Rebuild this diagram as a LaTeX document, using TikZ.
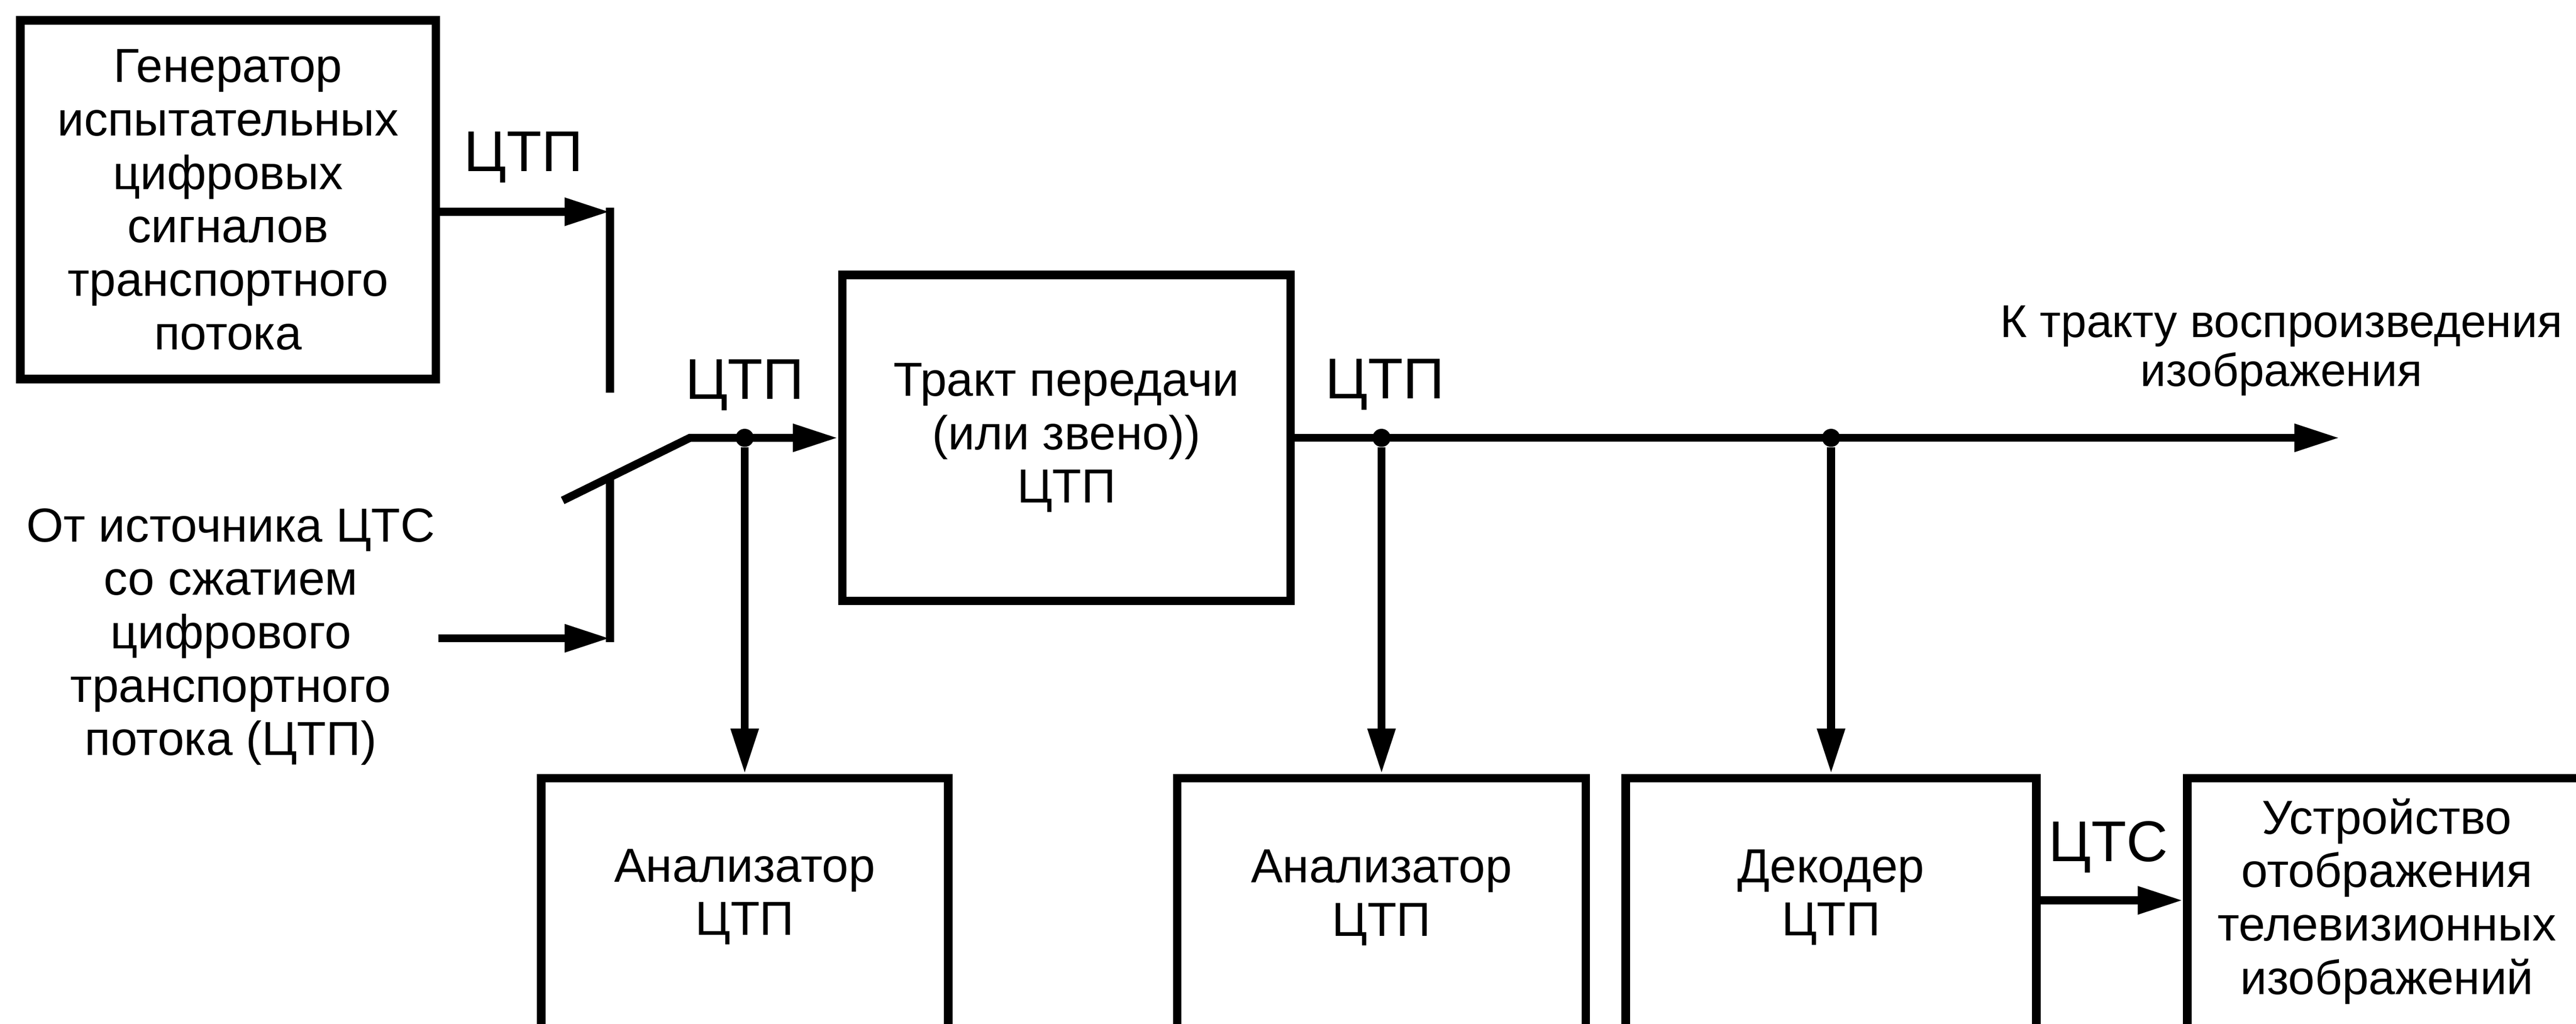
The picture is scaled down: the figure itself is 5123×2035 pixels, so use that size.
\documentclass[tikz,border=0pt]{standalone}
\usepackage{fontspec}
\setmainfont{Liberation Sans}
\usetikzlibrary{arrows.meta}
\begin{document}
\begin{tikzpicture}[x=0.01cm, y=-0.01cm,
  box/.style={draw, line width=0.17cm, rectangle, inner sep=0pt},
  conn/.style={line width=0.16cm},
  arr/.style={conn, -{Triangle[length=0.9cm, width=0.52cm]}},
  txt/.style={font=\fontsize{27}{30.2}\selectfont, align=center, inner sep=0pt},
  txtb/.style={font=\fontsize{26}{27.8}\selectfont, align=center, inner sep=0pt},
  lbl/.style={font=\fontsize{32.5}{36}\selectfont, inner sep=0pt, anchor=base},
  dot/.style={circle, fill, inner sep=0pt, minimum size=0.36cm}]
\path[use as bounding box, fill=white] (0,0) rectangle (5123,2035);
\clip (0,0) rectangle (5123,2035);

% boxes
\node[box, txt, minimum width=8.26cm, minimum height=7.13cm] (gen) at (453.5,397)
  {Генератор\\испытательных\\цифровых\\сигналов\\транспортного\\потока};
\node[txt] (src) at (459,1266)
  {От источника ЦТС\\со сжатием\\цифрового\\транспортного\\потока (ЦТП)};
\node[box, txt, minimum width=8.91cm, minimum height=6.48cm] (tract) at (2121,870.5)
  {Тракт передачи\\(или звено))\\ЦТП};

\node[box, anchor=north, minimum width=8.09cm, minimum height=6cm] (an1) at (1481,1538.5) {};
\node[txt] (an1t) at (1481,1783) {Анализатор\\ЦТП};
\node[box, anchor=north, minimum width=8.12cm, minimum height=6cm] (an2) at (2747.5,1538.5) {};
\node[txt] (an2t) at (2747.5,1785) {Анализатор\\ЦТП};
\node[box, anchor=north, minimum width=8.16cm, minimum height=6cm] (dec) at (3641.5,1538.5) {};
\node[txt] (dect) at (3641.5,1784) {Декодер\\ЦТП};
\node[box, anchor=north west, minimum width=9.6cm, minimum height=6cm] (disp) at (4341.5,1538.5) {};
\node[txt] (dispt) at (4747,1792) {Устройство\\отображения\\телевизионных\\изображений};

\node[txtb] (dest) at (4537,697) {К тракту воспроизведения\\изображения};

% labels
\node[lbl] (l1) at (1041,341) {ЦТП};
\node[lbl] (l2) at (1481,794) {ЦТП};
\node[lbl] (l3) at (2754,793) {ЦТП};
\node[lbl] (l4) at (4193,1713) {ЦТС};

% coordinates
\coordinate (gy) at (0,421);
\coordinate (swT) at (1213,413);
\coordinate (swTe) at (1213,781);
\coordinate (inA) at (872,1269);
\coordinate (inB) at (1213,1269);
\coordinate (inB2) at (1213,1277);
\coordinate (swB) at (1213,948);
\coordinate (pv1) at (1119,995);
\coordinate (pv2) at (1372,870.5);
\coordinate (outE) at (4653,870.5);
\coordinate (ctsy) at (0,1790);

% switch and inputs
\draw[arr] (gen.east |- gy) -- (swT |- gy);
\draw[conn] (swT) -- (swTe);
\draw[arr] (inA) -- (inB);
\draw[conn] (inB2) -- (swB);
\draw[arr] (pv1) -- (pv2) -- (tract.west);

% main line
\draw[arr] (tract.east) -- (outE);

% junctions
\node[dot] (d1) at (1481,870.5) {};
\node[dot] (d2) at (2747.5,870.5) {};
\node[dot] (d3) at (3641.5,870.5) {};
\draw[arr] (d1) -- (an1.north);
\draw[arr] (d2) -- (an2.north);
\draw[arr] (d3) -- (dec.north);

% decoder to display
\draw[arr] (dec.east |- ctsy) -- (disp.west |- ctsy);
\end{tikzpicture}
\end{document}
